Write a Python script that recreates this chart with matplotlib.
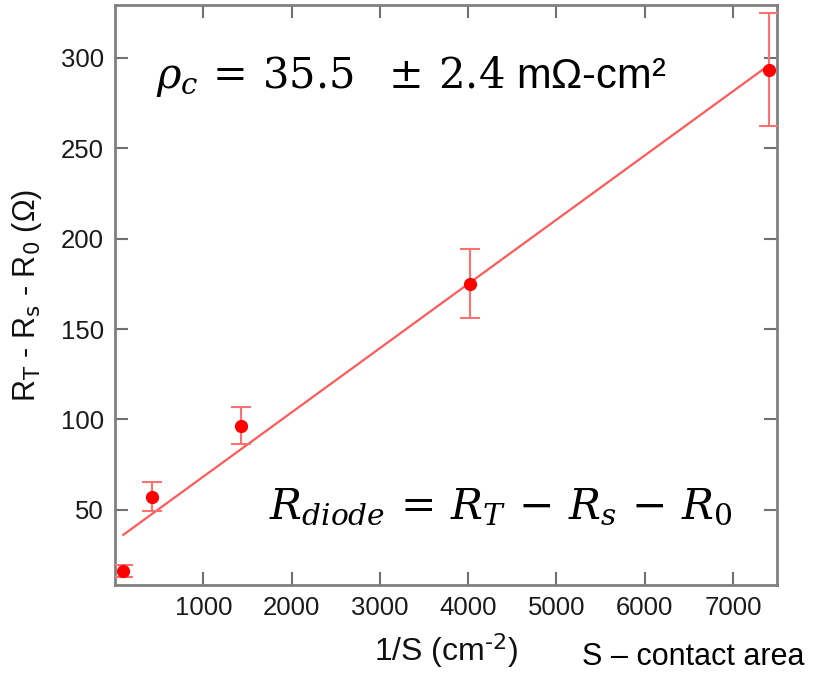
import numpy as np
import matplotlib.pyplot as plt

# Datos
inv_area = np.array([94, 419, 1427, 4024, 7410])        # 1/S (cm^-2)
r_diode = np.array([16.4, 57.4, 96.5, 175.0, 293.4])    # R_T - R_s - R_0 (Ohm)
r_err = np.array([3.3, 8.0, 10.3, 19.0, 31.0])

# Ajuste lineal (pendiente = rho_c en Ohm-cm^2)
fit_slope = 0.0355
fit_intercept = 32.9

plt.rcParams['font.family'] = ['Liberation Sans', 'DejaVu Sans']
plt.rcParams['mathtext.fontset'] = 'dejavuserif'

fig = plt.figure(figsize=(8.18, 6.79), dpi=100)
ax = fig.add_axes([0.1406, 0.1384, 0.8094, 0.854])

x_fit = np.array([inv_area.min(), inv_area.max()])
ax.plot(x_fit, fit_intercept + fit_slope * x_fit, color='#ff5a5a', lw=1.6, zorder=2)
ax.errorbar(inv_area, r_diode, yerr=r_err, fmt='o', color='#ff0000', ms=8.5,
            ecolor='#ff7070', elinewidth=1.5, capsize=7, capthick=1.5, zorder=3)

ax.set_xlim(0, 7500)
ax.set_ylim(8.5, 329)
ax.set_xticks([1000, 2000, 3000, 4000, 5000, 6000, 7000])
ax.set_yticks([50, 100, 150, 200, 250, 300])

for s in ax.spines.values():
    s.set_color('#808080')
    s.set_linewidth(2)
ax.tick_params(direction='in', length=9.5, width=1.5, color='#707070',
               top=True, right=True, labelsize=18.5, labelcolor='#1a1a1a', pad=8)

ax.set_xlabel('1/S (cm$^{\\mathsf{\u2010 2}}$)', fontsize=23, color='#111111', labelpad=8)
ax.set_ylabel('R$_\\mathsf{T}$ - R$_\\mathsf{s}$ - R$_\\mathsf{0}$ (Ω)', fontsize=22,
              color='#111111', labelpad=12)

ax.text(0.062, 0.877, r'$\rho_c\,=\,35.5\ \ \pm\,2.4$ mΩ-cm²', transform=ax.transAxes,
        fontsize=30, va='center', ha='left', color='black')
ax.text(0.233, 0.135, r'$R_{diode}\,=\,R_T\,-\,R_s\,-\,R_0$', transform=ax.transAxes,
        fontsize=30.5, va='center', ha='left', color='black')
fig.text(0.712, 0.032, 'S – contact area', fontsize=22, color='black', va='center')

fig.savefig('out.png', dpi=100)
